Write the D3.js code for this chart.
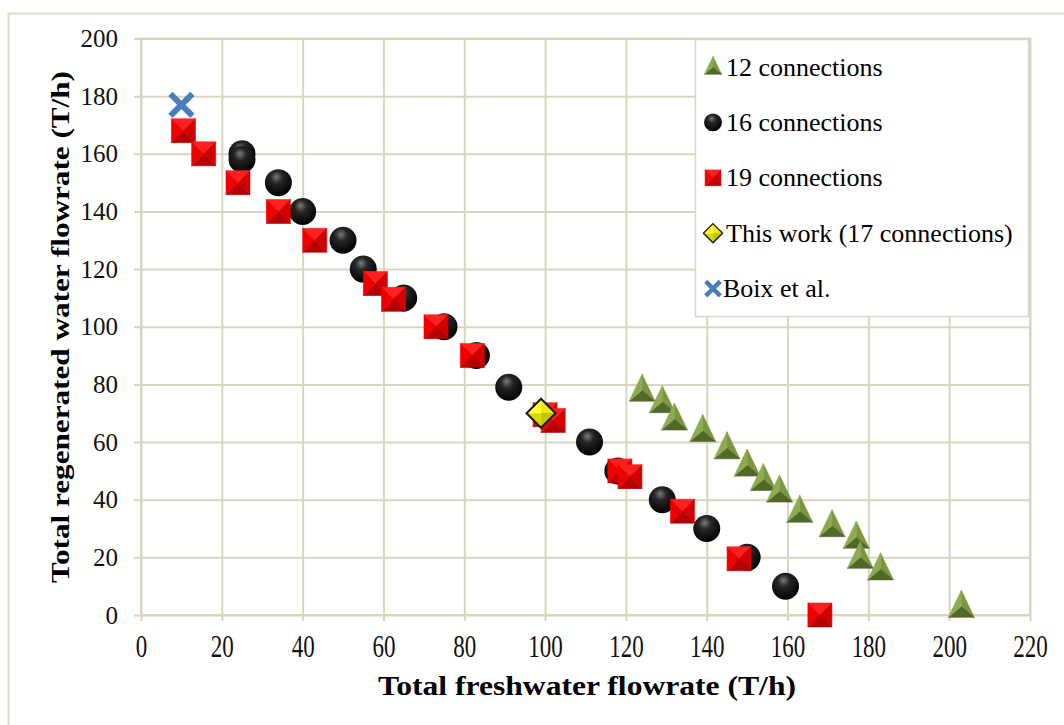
<!DOCTYPE html>
<html>
<head>
<meta charset="utf-8">
<script src="https://cdn.jsdelivr.net/npm/d3@7"></script>
<style>
  body { margin: 0; background: #fff; }
</style>
</head>
<body>
<div id="chart"></div>
<script>
// 12 connections (triangles)
const tri12X = [124, 129, 132, 139, 145, 150, 154, 158, 163, 171, 177, 178, 183, 203]
const tri12Y = [78, 74, 68, 64, 58, 52, 47, 43, 36, 31, 27, 20, 16, 3]
// 16 connections (circles)
const circ16X = [25, 25, 34, 40, 50, 55, 65, 75, 83, 91, 111, 118, 129, 140, 150, 159.5]
const circ16Y = [160, 158, 150, 140, 130, 120, 110, 100, 90, 79, 60, 50, 40, 30, 20, 10]
// 19 connections (squares)
const sq19X = [10.5, 15.5, 24, 34, 43, 58, 62.5, 73, 82, 100, 102, 118.5, 121, 134, 148, 168]
const sq19Y = [168, 160, 150, 140, 130, 115, 109.5, 100, 90, 69.5, 67.5, 50, 48, 36, 19.5, 0]
// This work (17 connections)
const thisWorkX = [99]
const thisWorkY = [70]
// Boix et al.
const boixX = [10]
const boixY = [177]

const xTicks = [0, 20, 40, 60, 80, 100, 120, 140, 160, 180, 200, 220]
const yTicks = [0, 20, 40, 60, 80, 100, 120, 140, 160, 180, 200]
const legendLabels = ['12 connections', '16 connections', '19 connections', 'This work (17 connections)', 'Boix et al.']
const legendTypes = ['triangle', 'circle', 'square', 'diamond', 'cross']

const width = 1064
const height = 725
const gridColor = '#d8d5c1'
const serif = "'Liberation Serif', 'Times New Roman', Times, serif"

const x = d3.scaleLinear().domain([0, 220]).range([141, 1030])
const y = d3.scaleLinear().domain([0, 200]).range([615, 38.5])

const svg = d3.select('#chart')
  .append('svg')
  .attr('width', width)
  .attr('height', height)
  .attr('font-family', serif)

const defs = svg.append('defs')
const sphere = defs.append('radialGradient')
  .attr('id', 'sphere')
  .attr('cx', '45%').attr('cy', '35%').attr('r', '65%')
  .attr('fx', '42%').attr('fy', '28%')
sphere.append('stop').attr('offset', '0%').attr('stop-color', '#7a7a7a')
sphere.append('stop').attr('offset', '35%').attr('stop-color', '#262626')
sphere.append('stop').attr('offset', '100%').attr('stop-color', '#000')

// outer chart-area border
svg.append('rect')
  .attr('x', 8.5).attr('y', 13.5)
  .attr('width', 1100).attr('height', 800)
  .attr('fill', '#fff')
  .attr('stroke', '#dddccb')
  .attr('stroke-width', 2)

// gridlines + tick labels
const xAxis = d3.axisBottom(x)
  .tickValues(xTicks)
  .tickSizeInner(-(y(0) - y(200)) - 6)
  .tickSizeOuter(0)
  .tickPadding(0)

const gx = svg.append('g')
  .attr('transform', `translate(0,${y(0) + 6})`)
  .call(xAxis)
  .attr('font-family', serif)
gx.select('.domain').remove()
gx.selectAll('line').attr('stroke', gridColor).attr('stroke-width', 2)
gx.selectAll('text')
  .attr('y', 25.7)
  .attr('dy', 0)
  .attr('transform', 'scale(1,1.4)')
  .style('font-family', serif)
  .style('font-size', '23px')
  .attr('fill', '#111')

const yAxis = d3.axisLeft(y)
  .tickValues(yTicks)
  .tickSizeInner(-(x(220) - x(0)) - 7)
  .tickSizeOuter(0)
  .tickPadding(16)

const gy = svg.append('g')
  .attr('transform', `translate(${x(0) - 7},0)`)
  .call(yAxis)
  .attr('font-family', serif)
gy.select('.domain').remove()
gy.selectAll('line').attr('stroke', gridColor).attr('stroke-width', 2)
gy.selectAll('text')
  .style('font-family', serif)
  .style('font-size', '25px')
  .attr('fill', '#111')

// plot border
svg.append('rect')
  .attr('x', x(0)).attr('y', y(200))
  .attr('width', x(220) - x(0)).attr('height', y(0) - y(200))
  .attr('fill', 'none')
  .attr('stroke', gridColor)
  .attr('stroke-width', 2)

// bevelled faces from centre to each edge
function facets (g, verts, colors, stroke) {
  verts.forEach((v, i) => {
    const w = verts[(i + 1) % verts.length]
    g.append('path')
      .attr('d', `M0,0L${v[0]},${v[1]}L${w[0]},${w[1]}Z`)
      .attr('fill', colors[i])
      .attr('stroke', colors[i])
      .attr('stroke-width', 0.6)
  })
  if (stroke) {
    g.append('path')
      .attr('d', 'M' + verts.map(v => v.join(',')).join('L') + 'Z')
      .attr('fill', 'none')
      .attr('stroke', stroke.color)
      .attr('stroke-width', stroke.width)
  }
}

function drawMarker (g, type, k) {
  if (type === 'triangle') {
    facets(g, [[0, -16 * k], [13 * k, 11 * k], [-13 * k, 11 * k]],
      ['#7a9740', '#52672a', '#8fab52'])
  } else if (type === 'circle') {
    g.append('circle').attr('r', 13.5 * k).attr('fill', 'url(#sphere)')
  } else if (type === 'square') {
    const s = 12 * k
    facets(g, [[-s, -s], [s, -s], [s, s], [-s, s]],
      ['#ff2020', '#d20000', '#b40000', '#ee0000'])
  } else if (type === 'diamond') {
    const s = 14.5 * k
    facets(g, [[0, -s], [s, 0], [0, s], [-s, 0]],
      ['#eded00', '#c4c400', '#d8d800', '#ffff3a'],
      { color: '#1c1c1c', width: 2 * Math.max(k, 0.7) })
  } else if (type === 'cross') {
    const s = 11 * k
    g.append('path')
      .attr('d', `M${-s},${-s}L${s},${s}M${-s},${s}L${s},${-s}`)
      .attr('stroke', '#4a7ebb')
      .attr('stroke-width', 6 * Math.max(k, 0.75))
      .attr('fill', 'none')
  }
}

const series = [
  { xs: tri12X, ys: tri12Y, type: 'triangle' },
  { xs: circ16X, ys: circ16Y, type: 'circle' },
  { xs: sq19X, ys: sq19Y, type: 'square' },
  { xs: thisWorkX, ys: thisWorkY, type: 'diamond' },
  { xs: boixX, ys: boixY, type: 'cross' }
]

const marks = svg.append('g')
series.forEach(s => {
  marks.append('g')
    .selectAll('g')
    .data(s.xs.map((v, i) => [v, s.ys[i]]))
    .enter().append('g')
      .attr('transform', d => `translate(${x(d[0])},${y(d[1])})`)
      .each(function () { drawMarker(d3.select(this), s.type, 1) })
})

// legend
const legend = svg.append('g')
legend.append('rect')
  .attr('x', 695.5).attr('y', 39.5)
  .attr('width', 333).attr('height', 277)
  .attr('fill', '#fff')
  .attr('stroke', '#d6d6cc')
  .attr('stroke-width', 1.5)

const items = legend.selectAll('g.item')
  .data(legendLabels)
  .enter().append('g')
    .attr('class', 'item')
    .attr('transform', (d, i) => `translate(713,${67 + i * 55.4})`)

items.each(function (d, i) {
  const g = d3.select(this).append('g')
  drawMarker(g, legendTypes[i], 0.66)
})
items.append('text')
  .attr('x', (d, i) => i === 4 ? 10 : 13)
  .attr('y', 8.5)
  .style('font-family', serif)
  .style('font-size', '26px')
  .attr('fill', '#000')
  .text(d => d)

// axis titles
svg.append('text')
  .attr('x', 378)
  .attr('y', 695)
  .attr('textLength', 418)
  .attr('lengthAdjust', 'spacingAndGlyphs')
  .style('font-family', serif)
  .style('font-size', '27px')
  .style('font-weight', 'bold')
  .attr('fill', '#000')
  .text('Total freshwater flowrate (T/h)')

svg.append('text')
  .attr('transform', 'translate(69,583) rotate(-90)')
  .attr('textLength', 512)
  .attr('lengthAdjust', 'spacingAndGlyphs')
  .style('font-family', serif)
  .style('font-size', '26px')
  .style('font-weight', 'bold')
  .attr('fill', '#000')
  .text('Total regenerated water flowrate (T/h)')
</script>
</body>
</html>
